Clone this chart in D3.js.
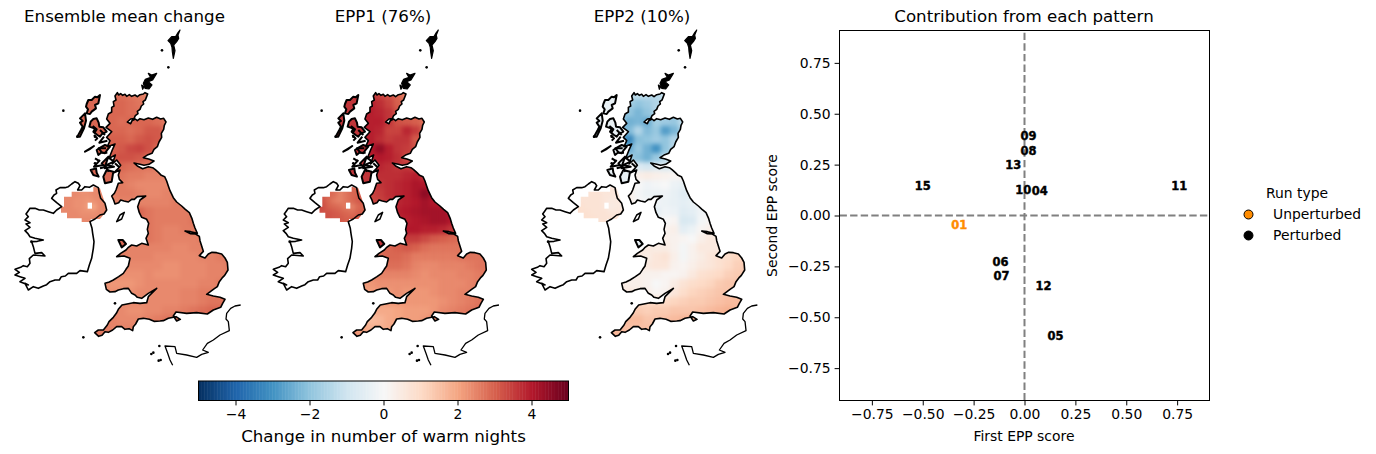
<!DOCTYPE html>
<html><head><meta charset="utf-8">
<script src="https://cdn.jsdelivr.net/npm/d3@7"></script>
<style>html,body{margin:0;padding:0;background:#fff}svg{display:block}text{font-family:"DejaVu Sans",sans-serif;fill:#000}</style>
</head><body><svg id="c" width="1376" height="454"></svg>
<script>
// ---------- data ----------
const panelTitles = ["Ensemble mean change","EPP1 (76%)","EPP2 (10%)"];
const cmapStops = ["#053061","#2166ac","#4393c3","#92c5de","#d1e5f0","#f7f7f7","#fddbc7","#f4a582","#d6604d","#b2182b","#67001f"];
const colorbarTicks = [-4,-2,0,2,4];
const scatterTicks = [-0.75,-0.5,-0.25,0,0.25,0.5,0.75];

// Great Britain grid (first column of each row, then values)
const gbRowStart = [2,2,2,1,1,1,1,2,2,3,2,2,2,5,5,6,5,4,3,3,2,1,2,3,2,1,0,0];
const gbMean = [
[2.8,2.8,2.7,2.6,2.5],[2.9,2.9,2.8,2.7,2.6],[2.9,2.9,2.8,2.8],
[2.9,2.9,2.8,2.9,2.9,2.9,2.8,2.6],[2.9,2.9,2.9,2.8,2.9,3.1,3.1,2.8],
[2.9,3.0,3.0,2.9,3.1,3.2,3.1],[2.9,3.0,3.1,3.3,3.4,3.2,2.9],
[3.1,3.2,3.2,3.1,2.9],[3.0,2.9,2.8,2.7,2.7,2.6],[2.7,2.6,2.6,2.5,2.5,2.5],
[2.6,2.6,2.5,2.4,2.4,2.4,2.4],[2.5,2.6,2.6,2.5,2.4,2.4,2.5,2.5],
[2.5,2.5,2.5,2.5,2.5,2.5,2.5,2.6,2.6],[2.9,2.7,2.6,2.6,2.6,2.6,2.6],
[2.8,2.7,2.6,2.6,2.6,2.6,2.7],[2.7,2.6,2.5,2.5,2.6,2.6],
[2.7,2.7,2.6,2.5,2.5,2.5,2.5,2.6],[2.5,2.5,2.5,2.5,2.5,2.4,2.4,2.5,2.5],
[2.6,2.5,2.5,2.5,2.4,2.4,2.4,2.4,2.4,2.5,2.5,2.6],
[2.4,2.4,2.4,2.4,2.4,2.3,2.3,2.4,2.4,2.4,2.5,2.5,2.6],
[2.4,2.3,2.3,2.3,2.4,2.3,2.3,2.3,2.4,2.4,2.4,2.5,2.5,2.6],
[2.3,2.2,2.2,2.2,2.3,2.4,2.4,2.4,2.4,2.4,2.4,2.5,2.5,2.6],
[2.3,2.3,2.3,2.4,2.4,2.4,2.4,2.4,2.5,2.5,2.6,2.6],
[2.4,2.4,2.4,2.4,2.4,2.4,2.4,2.5,2.5,2.6,2.7,2.7],
[2.4,2.4,2.3,2.3,2.4,2.4,2.5,2.5,2.6,2.7,2.8,2.9,2.9],
[2.5,2.5,2.4,2.4,2.4,2.5,2.6,2.7,2.8],[2.6,2.6,2.5,2.5,2.5],[2.7,2.7]];
const gbEpp1 = [
[3.6,3.4,3.2,2.9,2.5],[3.9,3.7,3.4,3.0,2.8],[3.9,3.8,3.6,3.2],
[3.8,3.9,3.9,3.6,3.2,3.1,3.0,2.8],[3.9,3.9,3.8,3.4,3.4,3.8,3.5,2.9],
[3.9,3.9,3.7,3.5,3.6,3.6,3.1],[3.9,4.0,4.4,3.9,3.6,3.5,3.2],
[3.9,4.0,3.9,3.7,3.3],[3.8,3.8,3.7,3.6,3.6,3.3],[3.7,3.7,3.7,3.8,3.9,3.6],
[3.5,3.6,3.7,3.8,3.9,4.1,4.0],[3.4,3.5,3.7,3.8,3.9,4.1,4.5,4.1],
[3.3,3.4,3.6,3.8,3.9,4.0,4.2,4.0,3.9],[3.9,4.0,4.1,4.2,4.2,4.2,4.0],
[3.8,3.9,4.0,4.1,4.2,4.2,4.0],[4.0,4.0,3.9,3.9,3.8,3.6],
[3.3,3.5,3.5,3.3,3.1,3.0,2.9,2.8],[2.9,3.0,3.1,3.0,2.8,2.7,2.7,2.7,2.7],
[2.8,2.9,2.9,2.8,2.6,2.6,2.6,2.6,2.6,2.7,2.7,2.7],
[2.7,2.8,2.8,2.7,2.5,2.4,2.4,2.5,2.5,2.5,2.6,2.7,2.7],
[2.5,2.5,2.5,2.5,2.5,2.4,2.3,2.4,2.4,2.4,2.5,2.5,2.6,2.7],
[2.2,2.2,2.3,2.3,2.3,2.3,2.3,2.3,2.3,2.4,2.4,2.4,2.5,2.6],
[2.1,2.2,2.2,2.3,2.2,2.2,2.2,2.3,2.4,2.4,2.5,2.5],
[2.1,2.2,2.2,2.2,2.2,2.2,2.2,2.3,2.4,2.5,2.6,2.7],
[1.9,1.9,1.9,2.0,2.1,2.1,2.1,2.2,2.4,2.5,2.6,2.7,2.8],
[1.8,1.6,1.7,1.9,2.0,2.1,2.1,2.2,2.4],[2.2,2.0,1.8,1.8,1.9],[2.4,2.3]];
const gbEpp2 = [
[-1.5,-1.2,-1.3,-1.4,-1.1],[-1.7,-2.0,-1.8,-1.5,-1.2],[-2.0,-2.3,-2.0,-1.5],
[-1.9,-2.4,-2.3,-2.5,-1.7,-1.8,-1.9,-1.2],[-2.3,-2.2,-1.5,-2.2,-1.9,-2.8,-2.3,-1.5],
[-2.8,-3.2,-2.1,-2.0,-1.8,-2.0,-1.5],[-2.6,-2.5,-1.9,-2.4,-3.0,-2.0,-1.4],
[-1.8,-2.1,-2.4,-1.9,-1.4],[-0.6,-0.7,-0.9,-0.7,-0.8,-0.6],[0.3,0.4,0.3,0.2,0.1,0.2],
[0.3,0,-0.2,-0.1,0,-0.3,-0.4],[0.3,-0.1,-0.3,-0.3,-0.2,-0.4,-0.6,-0.5],
[0.3,0,-0.1,-0.2,-0.3,-0.4,-0.5,-0.4,-0.1],[-0.5,-0.2,-0.3,-0.6,-0.5,-0.2,0],
[-0.1,0,0.1,-0.8,-0.7,-0.1,0.1],[0.2,0.3,-0.5,-0.3,0.1,0.3],
[0.3,0.3,0.2,0.1,0,0.3,0.5,0.5],[0.5,0.4,0.4,0.2,-0.1,0.2,0.5,0.5,0.5],
[0.5,0.4,0.6,0.7,0.3,-0.1,0.2,0.4,0.6,0.8,0.9,1.1],
[0.5,0.5,0.6,0.6,0.2,0.1,0.3,0.5,0.6,0.8,1.0,1.2,1.3],
[0.3,0.3,0.2,0.2,0.1,0.1,0.2,0.5,0.8,0.9,1.0,1.2,1.3,1.4],
[0.4,0.3,0.3,0.2,0,0.1,0.4,0.7,0.9,1.0,1.1,1.3,1.4,1.4],
[0.5,0.4,0.3,0.1,0.2,0.6,0.9,1.1,1.2,1.3,1.4,1.4],
[0.9,1.0,1.0,1.0,1.1,1.2,1.3,1.3,1.4,1.5,1.6,1.6],
[1.2,1.3,1.2,1.3,1.3,1.4,1.4,1.4,1.5,1.6,1.7,1.8,1.7],
[1.5,1.6,1.6,1.4,1.4,1.5,1.6,1.7,1.8],[1.7,1.6,1.5,1.5,1.5],[1.7,1.7]];

// Northern Ireland grid
const niMean = [
[null,null,null,null,null,2.4,2.4],[null,2.4,2.4,2.3,2.3,2.4,2.4],
[2.4,2.4,2.3,2.3,2.2,2.3,2.4],[2.4,2.4,2.3,2.3,2.1,2.0,2.4],
[2.4,2.4,2.4,2.3,2.3,2.3,2.4],[2.4,2.4,2.4,2.4,2.4,2.4,2.4]];
const niEpp1 = [
[null,null,null,null,null,2.9,2.9],[null,2.9,2.8,2.5,2.7,2.9,3.0],
[3.2,2.9,2.6,2.5,2.7,2.9,3.1],[3.3,3.0,2.9,2.8,2.6,2.5,2.9],
[3.2,3.2,3.1,3.0,2.9,2.8,3.0],[3.2,3.2,3.1,3.1,3.0,3.0,3.1]];
const niEpp2 = [
[null,null,null,null,null,0.6,0.6],[null,0.7,0.7,0.7,0.6,0.6,0.6],
[0.7,0.7,0.7,0.7,0.6,0.5,0.5],[0.8,0.7,0.7,0.7,0.6,0.4,0.5],
[0.8,0.8,0.7,0.7,0.7,0.6,0.6],[0.8,0.8,0.8,0.7,0.7,0.7,0.7]];
const islandValues = [2.9,3.6,-0.4];

// coast outlines (map units)
const gbCoast = [[352,218],[356,225],[362,221],[368,226],[375,223],[380,229],[388,224],[395,229],[405,225],[412,230],[420,224],[430,222],[435,218],[443,222],[439,232],[436,240],[429,245],[431,252],[424,258],[420,268],[412,274],[414,281],[406,287],[402,296],[392,297],[382,306],[392,311],[396,302],[406,297],[412,302],[420,296],[432,299],[445,294],[458,298],[470,292],[482,297],[491,295],[498,306],[493,316],[491,328],[484,340],[485,352],[477,366],[472,380],[462,388],[456,400],[444,404],[430,413],[446,417],[462,423],[447,433],[432,436],[420,433],[402,429],[412,438],[428,446],[445,440],[458,443],[466,449],[476,458],[484,466],[494,470],[500,483],[505,498],[510,512],[520,533],[530,546],[545,558],[556,568],[568,578],[576,596],[580,610],[585,624],[592,640],[572,635],[555,633],[572,641],[587,642],[598,649],[600,662],[605,678],[610,694],[598,707],[615,714],[625,702],[636,697],[650,698],[665,702],[675,714],[682,727],[684,750],[674,766],[668,772],[658,785],[652,800],[640,808],[620,823],[640,828],[660,832],[675,838],[668,850],[662,862],[640,870],[622,882],[590,878],[560,880],[528,876],[520,888],[530,903],[541,898],[528,890],[505,895],[490,902],[480,903],[462,904],[448,898],[430,895],[415,897],[407,912],[400,920],[398,932],[387,926],[375,928],[365,920],[350,920],[338,930],[325,937],[315,935],[306,946],[296,949],[284,938],[295,930],[310,930],[322,915],[327,905],[340,892],[349,880],[355,868],[366,855],[385,851],[400,848],[420,850],[440,848],[445,830],[470,805],[445,820],[425,835],[412,832],[405,825],[395,820],[385,805],[370,806],[355,810],[345,815],[330,816],[319,808],[315,790],[328,786],[340,780],[356,770],[370,760],[378,748],[385,738],[390,715],[372,708],[350,710],[362,700],[378,690],[384,683],[395,675],[410,678],[425,670],[445,675],[438,655],[445,640],[442,628],[446,610],[440,598],[425,592],[418,578],[413,560],[420,540],[437,528],[412,530],[403,538],[395,538],[385,546],[372,543],[362,540],[356,548],[345,552],[340,538],[335,528],[343,520],[348,510],[355,490],[368,488],[358,478],[355,465],[360,450],[342,458],[355,445],[362,436],[350,420],[337,432],[346,405],[327,415],[336,392],[345,372],[322,380],[330,362],[320,352],[335,335],[318,322],[330,310],[320,297],[325,282],[335,276],[335,262],[342,258],[340,245],[348,240],[345,228]];
const irelandCoast = [[155,535],[162,525],[170,520],[168,510],[180,503],[195,503],[205,500],[215,492],[225,485],[235,490],[240,497],[233,510],[245,510],[255,500],[268,502],[280,495],[295,503],[298,520],[302,535],[315,550],[320,570],[312,582],[300,585],[285,597],[270,605],[276,625],[278,640],[282,665],[280,685],[275,715],[268,735],[262,755],[240,752],[230,760],[205,760],[196,768],[184,770],[178,780],[165,780],[150,785],[140,794],[130,798],[115,805],[100,800],[85,810],[75,790],[85,795],[60,785],[75,775],[60,770],[45,765],[58,757],[45,748],[62,742],[70,737],[82,740],[90,730],[88,716],[100,705],[135,708],[125,698],[105,700],[100,680],[95,665],[112,664],[130,660],[105,655],[90,650],[83,640],[75,632],[90,622],[78,612],[90,608],[75,600],[85,590],[78,582],[85,572],[90,565],[105,565],[118,570],[130,570],[145,575],[160,580],[170,570],[185,560],[170,548]];
const franceCoast = [[722,855],[705,858],[692,865],[680,880],[678,897],[685,905],[688,932],[660,945],[640,960],[622,970],[608,990],[625,997],[605,1003],[590,1012],[560,1005],[530,1000],[525,980],[495,978],[503,1000],[510,1020],[518,1036]];
const islands = [
 [[300,225],[292,232],[285,230],[275,240],[265,240],[260,252],[258,260],[264,268],[260,280],[270,282],[275,275],[288,265],[285,255],[295,250]],
 [[255,280],[240,295],[248,303],[240,308],[248,320],[243,330],[232,350],[240,350],[252,325],[258,302]],
 [[272,305],[280,297],[290,295],[296,308],[298,320],[310,322],[320,335],[306,342],[300,350],[292,345],[280,335],[285,326],[268,320]],
 [[255,395],[268,388],[282,378]],
 [[290,390],[302,382],[315,375],[330,380],[320,392],[315,400],[305,397],[295,405]],
 [[272,450],[288,445],[290,458],[296,470],[280,465]],
 [[305,430],[325,410],[315,440]],
 [[320,450],[340,455],[335,485],[315,490],[310,470]],
 [[355,660],[368,660],[378,672],[365,682]]
];
const whiteIslands = [[[350,605],[360,585],[373,577],[365,597]]];
const blackIslands = [
 [[540,30],[534,38],[527,50],[515,50],[504,62],[512,70],[516,82],[517,95],[520,115],[525,92],[521,75],[530,65],[536,55],[534,45]],
 [[470,160],[455,165],[445,160],[452,172],[436,178],[430,190],[435,205],[447,207],[456,195],[445,185],[458,180]],
 [[425,195],[432,200],[428,208]]
];
const lochs = [
 [[278,318],[290,328],[282,340]],[[282,345],[292,355],[285,362]],[[312,350],[298,368],[322,362]],[[300,330],[315,345]],
 [[318,385],[296,385],[306,398],[322,398]],[[325,412],[342,425],[320,435],[342,440],[312,445]],
 [[300,420],[282,440],[310,435]],[[345,430],[358,442]],[[300,445],[318,440],[326,455]],[[285,415],[296,422]]
];
const dots = [[486,91],[505,142],[190,272],[250,952],[345,850],[285,350],[460,998],[454,1002],[482,1020],[476,1022],[478,978],[94,665],[285,430],[232,350]];
const niMask = [[215,515],[280,515],[280,500],[300,505],[322,570],[300,597],[272,597],[272,606],[245,606],[245,595],[201,595],[201,578],[183,578],[183,560],[192,560],[192,530],[215,530]];
const lough = [[263,548],[276,548],[276,566],[263,566]];

// scatter labels
const runIds = ["01","04","05","06","07","08","09","10","11","12","13","15"];
const eppFirst = [-0.32,0.075,0.152,-0.118,-0.113,0.02,0.02,-0.006,0.76,0.093,-0.055,-0.50];
const eppSecond = [-0.048,0.123,-0.59,-0.226,-0.295,0.32,0.39,0.127,0.147,-0.344,0.25,0.147];
const runTypes = ["Unperturbed","Perturbed"];
const runColors = ["darkorange","#000"];

// ---------- drawing ----------
const svg = d3.select("#c");
const color = d3.scaleLinear().domain(d3.range(-5,5.01,1)).range(cmapStops).clamp(true);
const mx = d3.scaleLinear().domain([0,750]).range([0,250]);
const my = d3.scaleLinear().domain([0,1050]).range([20,370]);
const gridX0=270, gridY0=210, gridW=27;
const niX0=183, niY0=497, niW=18;
const poly = d3.line().x(d=>mx(d[0])).y(d=>my(d[1]));
const closed = p => poly(p)+"Z";
const offsets = [0,258.3,516.7];
const gbFields=[gbMean,gbEpp1,gbEpp2], niFields=[niMean,niEpp1,niEpp2];
const titleSize = 16.67, tickSize=13.9, labelSize=13.9;
const defs = svg.append("defs");
defs.append("clipPath").attr("id","gbclip").selectAll("path").data([gbCoast]).join("path").attr("d",closed);
defs.append("clipPath").attr("id","niclip").selectAll("path").data([niMask]).join("path").attr("d",closed);
const soft = defs.append("filter").attr("id","soft").attr("x","-10%").attr("y","-10%").attr("width","120%").attr("height","120%").attr("color-interpolation-filters","sRGB");
soft.append("feGaussianBlur").attr("stdDeviation",2.2);
soft.append("feComponentTransfer").append("feFuncA").attr("type","linear").attr("slope",30);
const titleX=[124.5,383,642];
panelTitles.forEach((t,i)=>{
  const g = svg.append("g").attr("transform",`translate(${offsets[i]},0)`);
  const cells=[];
  gbFields[i].forEach((row,r)=>row.forEach((v,k)=>cells.push({c:gbRowStart[r]+k,r,v})));
  g.append("g").attr("clip-path","url(#gbclip)").append("g").attr("filter","url(#soft)").selectAll("rect").data(cells).join("rect")
    .attr("x",d=>mx(gridX0+d.c*gridW)).attr("y",d=>my(gridY0+d.r*gridW))
    .attr("width",mx(gridW)-mx(0)+.4).attr("height",my(gridW)-my(0)+.4).attr("fill",d=>color(d.v));
  const ni=[];
  niFields[i].forEach((row,r)=>row.forEach((v,c)=>{if(v!==null)ni.push({c,r,v})}));
  g.append("g").attr("clip-path","url(#niclip)").append("g").attr("filter","url(#soft)").selectAll("rect").data(ni).join("rect")
    .attr("x",d=>mx(niX0+d.c*niW)).attr("y",d=>my(niY0+d.r*niW))
    .attr("width",mx(niW)-mx(0)+.4).attr("height",my(niW)-my(0)+.4).attr("fill",d=>color(d.v));
  g.append("path").attr("d",closed(lough)).attr("fill","#fff");
  const stroke = s=>s.attr("stroke","#000").attr("stroke-linejoin","round");
  g.selectAll(".isl").data(islands).join("path").attr("class","isl").attr("d",closed)
    .attr("fill",color(islandValues[i])).call(stroke).attr("stroke-width",2);
  g.selectAll(".wisl").data(whiteIslands).join("path").attr("class","wisl").attr("d",closed)
    .attr("fill","#fff").call(stroke).attr("stroke-width",1.5);
  g.selectAll(".bisl").data(blackIslands).join("path").attr("class","bisl").attr("d",closed)
    .attr("fill","#000").call(stroke).attr("stroke-width",1.2);
  g.selectAll(".loch").data(lochs).join("path").attr("class","loch").attr("d",poly)
    .attr("fill","none").call(stroke).attr("stroke-width",2);
  [gbCoast,irelandCoast].forEach(p=>g.append("path").attr("d",closed(p)).attr("fill","none").call(stroke).attr("stroke-width",1.6));
  g.append("path").attr("d",poly(franceCoast)).attr("fill","none").call(stroke).attr("stroke-width",1.3);
  g.selectAll(".dot").data(dots).join("circle").attr("class","dot").attr("cx",d=>mx(d[0])).attr("cy",d=>my(d[1])).attr("r",1.3).attr("fill","#000");
  svg.append("text").attr("x",titleX[i]).attr("y",22).attr("text-anchor","middle").attr("font-size",titleSize).text(t);
});

// colour bar
const cb = d3.scaleLinear().domain([-5,5]).range([198.5,568.5]);
const cbG = svg.append("g");
cbG.selectAll("rect").data(d3.range(-5,5,10/256)).join("rect")
  .attr("x",d=>cb(d)).attr("y",381).attr("width",370/256+.5).attr("height",19.5).attr("fill",d=>color(d));
cbG.append("rect").attr("x",198.5).attr("y",381).attr("width",370).attr("height",19.5).attr("fill","none").attr("stroke","#000").attr("stroke-width",1);
const cbAxis = svg.append("g").attr("transform","translate(0,400.5)").call(d3.axisBottom(cb).tickValues(colorbarTicks).tickFormat(d=>String(d).replace("-","\u2212")).tickSize(4.9).tickPadding(4));
cbAxis.select(".domain").remove();
cbAxis.selectAll("text").attr("font-size",tickSize).attr("font-family",'"DejaVu Sans"');
svg.append("text").attr("x",383.5).attr("y",442).attr("text-anchor","middle").attr("font-size",titleSize).text("Change in number of warm nights");

// scatter
const x = d3.scaleLinear().domain([-0.909,0.909]).range([839.5,1209.5]);
const y = d3.scaleLinear().domain([-0.909,0.909]).range([400.5,30.5]);
const sg = svg.append("g");
sg.append("line").attr("x1",x(0)).attr("x2",x(0)).attr("y1",y.range()[0]).attr("y2",y.range()[1]).attr("stroke","#808080").attr("stroke-width",2).attr("stroke-dasharray","7.4,3.2");
sg.append("line").attr("y1",y(0)).attr("y2",y(0)).attr("x1",x.range()[0]).attr("x2",x.range()[1]).attr("stroke","#808080").attr("stroke-width",2).attr("stroke-dasharray","7.4,3.2");
sg.selectAll(".lab").data(runIds).join("text").attr("class","lab")
  .attr("x",(d,i)=>x(eppFirst[i])).attr("y",(d,i)=>y(eppSecond[i])+4.2).attr("text-anchor","middle")
  .attr("font-size",11.5).attr("font-weight","bold").attr("stroke",d=>d==="01"?"darkorange":"#000").attr("stroke-width",.4).style("fill",d=>d==="01"?"darkorange":"#000").text(d=>d);
sg.append("rect").attr("x",839.5).attr("y",30.5).attr("width",370).attr("height",370).attr("fill","none").attr("stroke","#000").attr("stroke-width",1);
const fmt = d=>d3.format(".2f")(d).replace("-","\u2212");
const ax = svg.append("g").attr("transform","translate(0,400.5)").call(d3.axisBottom(x).tickValues(scatterTicks).tickFormat(fmt).tickSize(4.9).tickPadding(4));
const ay = svg.append("g").attr("transform","translate(839.5,0)").call(d3.axisLeft(y).tickValues(scatterTicks).tickFormat(fmt).tickSize(4.9).tickPadding(4));
[ax,ay].forEach(a=>{a.select(".domain").remove();a.selectAll("text").attr("font-size",tickSize).attr("font-family",'"DejaVu Sans"');});
svg.append("text").attr("x",1024).attr("y",441).attr("text-anchor","middle").attr("font-size",labelSize).text("First EPP score");
svg.append("text").attr("transform","translate(777,215.5) rotate(-90)").attr("text-anchor","middle").attr("font-size",labelSize).text("Second EPP score");
svg.append("text").attr("x",1024).attr("y",22).attr("text-anchor","middle").attr("font-size",titleSize).text("Contribution from each pattern");

// legend
svg.append("text").attr("x",1297).attr("y",198).attr("text-anchor","middle").attr("font-size",labelSize).text("Run type");
const lg = svg.selectAll(".lg").data(runTypes).join("g").attr("class","lg").attr("transform",(d,i)=>`translate(0,${214.5+i*21})`);
lg.append("circle").attr("cx",1248.5).attr("r",4.5).attr("fill",(d,i)=>runColors[i]).attr("stroke","#000").attr("stroke-width",1);
lg.append("text").attr("x",1273).attr("y",4.5).attr("font-size",labelSize).text(d=>d);
</script></body></html>
